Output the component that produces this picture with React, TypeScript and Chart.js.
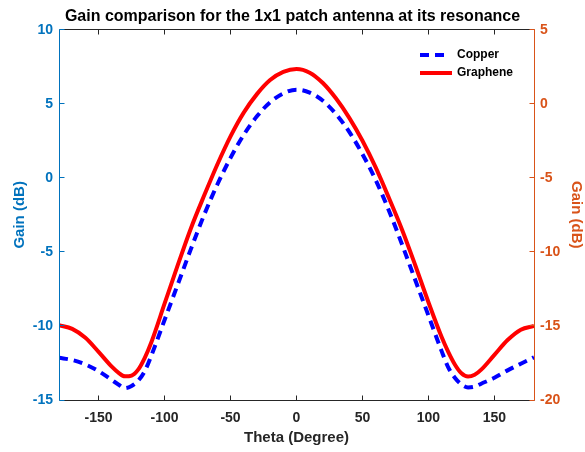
import { useEffect, useRef } from "react";
import { Chart, registerables } from "chart.js";

Chart.register(...registerables);

// Elevation angle samples (degrees)
const thetaDeg = [
  -180, -170, -160, -150, -140, -135, -130, -125, -120, -115, -110, -100, -90, -80, -70, -60, -50, -40, -30, -20, -10,
  0, 10, 20, 30, 40, 50, 60, 70, 80, 90, 100, 110, 115, 120, 125, 130, 135, 140, 150, 160, 170, 180,
];

// Copper patch gain (dB), left axis
const copperGain = [
  -12.15, -12.3, -12.6, -13.05, -13.65, -13.95, -14.2, -14.05, -13.7, -13.05, -12.0, -9.6, -7.2, -4.8, -2.5, -0.45, 1.35,
  2.9, 4.15, 5.1, 5.7, 5.95, 5.75, 5.2, 4.3, 3.1, 1.6, -0.15, -2.2, -4.5, -6.9, -9.3, -11.7, -12.8, -13.5, -13.95, -14.15,
  -14.1, -13.9, -13.5, -13.0, -12.55, -12.12,
];

// Graphene patch gain (dB), right axis
const grapheneGain = [
  -14.95, -15.2, -15.8, -16.75, -17.75, -18.15, -18.4, -18.35, -17.95, -17.15, -16.1, -13.5, -10.9, -8.4, -6.2, -4.1,
  -2.2, -0.6, 0.65, 1.6, 2.15, 2.35, 2.1, 1.4, 0.35, -0.95, -2.5, -4.3, -6.35, -8.5, -10.9, -13.4, -15.75, -16.75, -17.6,
  -18.2, -18.42, -18.3, -17.95, -16.95, -15.95, -15.25, -15.0,
];

const thetaTicks = [-150, -100, -50, 0, 50, 100, 150];
const leftGainTicks = [-15, -10, -5, 0, 5, 10];
const rightGainTicks = [-20, -15, -10, -5, 0, 5];

const BLUE_AXIS = "#0072BD";
const ORANGE_AXIS = "#D95319";
const DARK = "#262626";
const FONT = "'Liberation Sans', Arial, Helvetica, sans-serif";

const crisp = (v: number) => Math.floor(v) + 0.5;

// Box axes with inward tick marks, MATLAB style
const axesFrame = {
  id: "axesFrame",
  afterDatasetsDraw(chart: any) {
    const { ctx, chartArea: a, scales } = chart;
    const len = 5;
    const L = crisp(a.left);
    const R = crisp(a.right);
    const T = crisp(a.top);
    const B = crisp(a.bottom);
    ctx.save();
    ctx.lineWidth = 1;

    ctx.strokeStyle = DARK;
    ctx.beginPath();
    ctx.moveTo(L, B);
    ctx.lineTo(R, B);
    ctx.moveTo(L, T);
    ctx.lineTo(R, T);
    for (const t of scales.x.ticks) {
      const px = crisp(scales.x.getPixelForValue(t.value));
      ctx.moveTo(px, B);
      ctx.lineTo(px, B - len);
      ctx.moveTo(px, T);
      ctx.lineTo(px, T + len);
    }
    ctx.stroke();

    ctx.strokeStyle = BLUE_AXIS;
    ctx.beginPath();
    ctx.moveTo(L, T);
    ctx.lineTo(L, B);
    for (const t of scales.yL.ticks) {
      const py = crisp(scales.yL.getPixelForValue(t.value));
      ctx.moveTo(L, py);
      ctx.lineTo(L + len, py);
    }
    ctx.stroke();

    ctx.strokeStyle = ORANGE_AXIS;
    ctx.beginPath();
    ctx.moveTo(R, T);
    ctx.lineTo(R, B);
    for (const t of scales.yR.ticks) {
      const py = crisp(scales.yR.getPixelForValue(t.value));
      ctx.moveTo(R, py);
      ctx.lineTo(R - len, py);
    }
    ctx.stroke();
    ctx.restore();
  },
};

// Legend drawn inside the upper right corner of the plot
const insideLegend = {
  id: "insideLegend",
  afterDraw(chart: any) {
    const { ctx } = chart;
    const x0 = 420;
    const sampleLen = 32;
    const rows = [55, 73];
    ctx.save();
    chart.data.datasets.forEach((ds: any, i: number) => {
      const y = rows[i];
      ctx.strokeStyle = ds.borderColor;
      ctx.lineWidth = ds.borderWidth;
      ctx.setLineDash(ds.borderDash || []);
      ctx.beginPath();
      ctx.moveTo(x0, y);
      ctx.lineTo(x0 + (ds.borderDash ? 27 : sampleLen), y);
      ctx.stroke();
      ctx.setLineDash([]);
      ctx.fillStyle = "#000";
      ctx.font = `bold 12px ${FONT}`;
      ctx.textAlign = "left";
      ctx.textBaseline = "middle";
      ctx.fillText(ds.label, 457, y);
    });
    ctx.restore();
  },
};

export default function App() {
  const canvasRef = useRef<HTMLCanvasElement | null>(null);

  useEffect(() => {
    if (!canvasRef.current) return;
    const chart = new Chart(canvasRef.current, {
      type: "line",
      data: {
        datasets: [
          {
            label: "Copper",
            data: thetaDeg.map((t, i) => ({ x: t, y: copperGain[i] })),
            yAxisID: "yL",
            borderColor: "#0000FF",
            borderWidth: 4,
            borderDash: [9, 6],
            borderCapStyle: "butt",
            pointRadius: 0,
            cubicInterpolationMode: "monotone",
            fill: false,
          },
          {
            label: "Graphene",
            data: thetaDeg.map((t, i) => ({ x: t, y: grapheneGain[i] })),
            yAxisID: "yR",
            borderColor: "#FF0000",
            borderWidth: 4,
            pointRadius: 0,
            cubicInterpolationMode: "monotone",
            fill: false,
          },
        ],
      },
      options: {
        responsive: false,
        animation: false,
        devicePixelRatio: 1,
        layout: { padding: 0 },
        plugins: {
          legend: { display: false },
          tooltip: { enabled: false },
          title: {
            display: true,
            text: "Gain comparison for the 1x1 patch antenna at its resonance",
            color: "#000",
            font: { family: FONT, size: 16, weight: "bold" },
            padding: { top: 7, bottom: 3.5 },
          },
        },
        scales: {
          x: {
            type: "linear",
            min: -180,
            max: 180,
            afterBuildTicks: (s: any) => {
              s.ticks = thetaTicks.map((v) => ({ value: v }));
            },
            afterFit: (s: any) => {
              s.height = 52;
            },
            grid: { display: false, drawTicks: false },
            border: { display: false },
            ticks: {
              color: DARK,
              padding: 10,
              maxRotation: 0,
              font: { family: FONT, size: 14, weight: "bold" },
            },
            title: {
              display: true,
              text: "Theta (Degree)",
              color: DARK,
              font: { family: FONT, size: 15, weight: "bold" },
              padding: { top: 0, bottom: 5 },
            },
          },
          yL: {
            type: "linear",
            position: "left",
            min: -15,
            max: 10,
            afterBuildTicks: (s: any) => {
              s.ticks = leftGainTicks.map((v) => ({ value: v }));
            },
            afterFit: (s: any) => {
              s.width = 59;
            },
            grid: { display: false, drawTicks: false },
            border: { display: false },
            ticks: {
              color: BLUE_AXIS,
              padding: 6,
              font: { family: FONT, size: 14, weight: "bold" },
            },
            title: {
              display: true,
              text: "Gain (dB)",
              color: BLUE_AXIS,
              font: { family: FONT, size: 15, weight: "bold" },
              padding: { top: 11, bottom: 0 },
            },
          },
          yR: {
            type: "linear",
            position: "right",
            min: -20,
            max: 5,
            afterBuildTicks: (s: any) => {
              s.ticks = rightGainTicks.map((v) => ({ value: v }));
            },
            afterFit: (s: any) => {
              s.width = 51;
            },
            grid: { display: false, drawTicks: false },
            border: { display: false },
            ticks: {
              color: ORANGE_AXIS,
              padding: 6,
              font: { family: FONT, size: 14, weight: "bold" },
            },
            title: {
              display: true,
              text: "Gain (dB)",
              color: ORANGE_AXIS,
              font: { family: FONT, size: 15, weight: "bold" },
              padding: { top: 0, bottom: 0 },
            },
          },
        },
      },
      plugins: [axesFrame, insideLegend],
    } as any);
    return () => chart.destroy();
  }, []);

  return (
    <div style={{ position: "fixed", left: 0, top: 0, width: 585, height: 452, background: "#fff" }}>
      <canvas ref={canvasRef} width={585} height={452} />
    </div>
  );
}
